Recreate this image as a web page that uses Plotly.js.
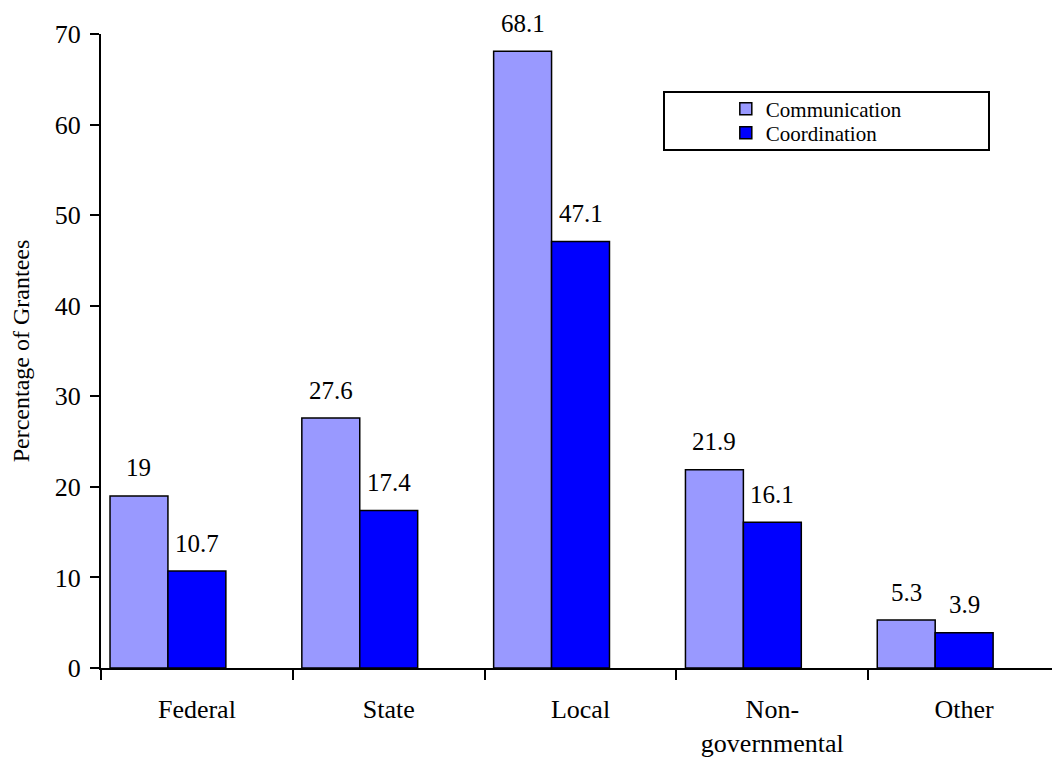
<!DOCTYPE html>
<html>
<head>
<meta charset="utf-8">
<script src="https://cdn.plot.ly/plotly-3.0.1.min.js"></script>
<style>html,body{margin:0;padding:0;background:#fff;}#chart{width:1052px;height:763px;}</style>
</head>
<body>
<div id="chart"></div>
<script>
const categories = ["Federal", "State", "Local", "Non-<br>governmental", "Other"];
const communication = [19, 27.6, 68.1, 21.9, 5.3];
const coordination = [10.7, 17.4, 47.1, 16.1, 3.9];
const communicationLabels = ["19", "27.6", "68.1", "21.9", "5.3"];
const coordinationLabels = ["10.7", "17.4", "47.1", "16.1", "3.9"];
const seriesNames = ["Communication", "Coordination"];
const yTicks = [0, 10, 20, 30, 40, 50, 60, 70];

const FONT = "Liberation Serif";

const traces = [
  {type: "bar", name: seriesNames[0], x: categories, y: communication, legend: "legend",
   marker: {color: "#9999FF", line: {color: "#000", width: 1.5}}, hoverinfo: "none"},
  {type: "bar", name: seriesNames[1], x: categories, y: coordination, legend: "legend2",
   marker: {color: "#0000FF", line: {color: "#000", width: 1.5}}, hoverinfo: "none"},
  {type: "bar", name: "", x: categories, y: categories.map(() => null),
   showlegend: false, hoverinfo: "none"}
];

const annotations = [];
categories.forEach((c, i) => {
  annotations.push({x: c, y: communication[i], text: communicationLabels[i], showarrow: false,
    xref: "x", yref: "y", xshift: -58, yshift: 28, yanchor: "middle",
    font: {family: FONT, size: 25, color: "#000"}});
  annotations.push({x: c, y: coordination[i], text: coordinationLabels[i], showarrow: false,
    xref: "x", yref: "y", xshift: 0, yshift: 28, yanchor: "middle",
    font: {family: FONT, size: 25, color: "#000"}});
});

const legendStyle = {xanchor: "left", yanchor: "middle",
  bgcolor: "rgba(0,0,0,0)", borderwidth: 0,
  font: {family: FONT, size: 21, color: "#000"}};

const layout = {
  width: 1052, height: 763,
  margin: {l: 101, r: 0, t: 34, b: 95},
  paper_bgcolor: "#fff", plot_bgcolor: "#fff",
  font: {family: FONT, color: "#000"},
  barmode: "group", bargap: 0.094, bargroupgap: 0,
  showlegend: true,
  legend: Object.assign({x: 0.657, y: (668 - 109) / 634}, legendStyle),
  legend2: Object.assign({x: 0.657, y: (668 - 133) / 634}, legendStyle),
  xaxis: {type: "category", range: [-0.5, 4.458], fixedrange: true,
    showline: true, linecolor: "#000", linewidth: 2,
    ticks: "outside", tickson: "boundaries", ticklen: 10, tickwidth: 2, tickcolor: "#000",
    tickfont: {family: FONT, size: 26, color: "#000"}, ticklabelstandoff: 17,
    showgrid: false, zeroline: false},
  yaxis: {range: [0, 70], tickvals: yTicks, ticktext: yTicks.map(String),
    showline: true, linecolor: "#000", linewidth: 2,
    ticks: "outside", ticklen: 9, tickwidth: 2, tickcolor: "#000",
    tickfont: {family: FONT, size: 26, color: "#000"}, ticklabelstandoff: 4,
    showgrid: false, zeroline: false,
    title: {text: "Percentage of Grantees", font: {family: FONT, size: 24, color: "#000"}, standoff: 18}},
  annotations: annotations,
  shapes: [{type: "rect", xref: "paper", yref: "paper",
    x0: (664 - 101) / 951, x1: (989 - 101) / 951,
    y0: (668 - 150) / 634, y1: (668 - 92) / 634,
    line: {color: "#000", width: 2}, fillcolor: "rgba(0,0,0,0)", layer: "below"}]
};

Plotly.newPlot("chart", traces, layout, {staticPlot: true, displayModeBar: false});
</script>
</body>
</html>
